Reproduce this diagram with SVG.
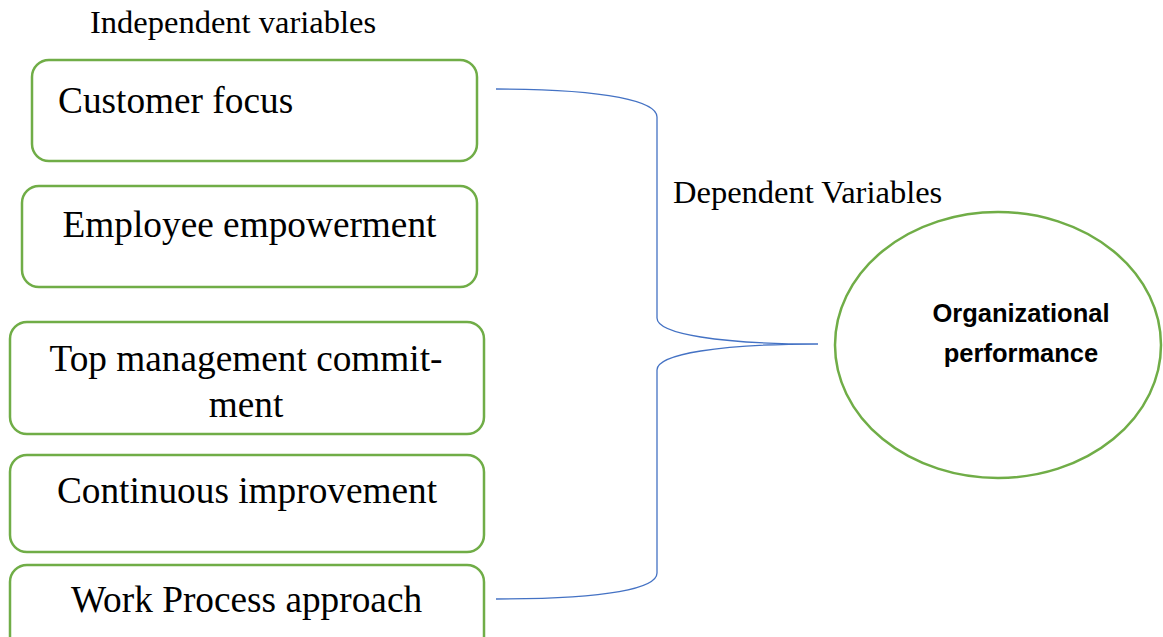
<svg xmlns="http://www.w3.org/2000/svg" width="1163" height="637" viewBox="0 0 1163 637">
<style>
.box{fill:#fff;stroke:#70AD47;stroke-width:2.5}
.t{font-family:"Liberation Serif","Times New Roman",serif;fill:#000}
.big{font-size:37.3px}
.hdr{font-size:32.5px}
.b{font-family:"Liberation Sans",Arial,sans-serif;font-weight:bold;font-size:25.5px;fill:#000;text-anchor:middle}
.brace{fill:none;stroke:#4472C4;stroke-width:1.3}
</style>
<rect width="1163" height="637" fill="#fff"/>
<text class="t hdr" x="90" y="33">Independent variables</text>
<text class="t hdr" x="673" y="203">Dependent Variables</text>
<g id="connectors">
<path class="brace" d="M496,89 C610,89 657,102 657,117 L657,318 C657,334 720,344 818,344 C720,344 657,354 657,370 L657,573 C657,588 610,599 496,599"/>
</g>
<g id="customer-focus">
<rect class="box" x="32" y="60" width="445" height="101" rx="17"/>
<text class="t big" x="58" y="113">Customer focus</text>
</g>
<g id="employee-empowerment">
<rect class="box" x="22" y="186" width="455" height="101" rx="17"/>
<text class="t big" x="249.5" y="237" text-anchor="middle">Employee empowerment</text>
</g>
<g id="top-management">
<rect class="box" x="10" y="322" width="474" height="112" rx="17"/>
<text class="t big" x="246" y="371" text-anchor="middle">Top management commit-</text>
<text class="t big" x="246" y="417" text-anchor="middle">ment</text>
</g>
<g id="continuous-improvement">
<rect class="box" x="10" y="455" width="474" height="97" rx="17"/>
<text class="t big" x="247" y="503" text-anchor="middle">Continuous improvement</text>
</g>
<g id="work-process">
<rect class="box" x="10" y="565" width="474" height="100" rx="17"/>
<text class="t big" x="246.5" y="612" text-anchor="middle">Work Process approach</text>
</g>
<g id="organizational-performance">
<ellipse cx="998" cy="345" rx="163" ry="133" fill="#fff" stroke="#70AD47" stroke-width="2.5"/>
<text class="b" x="1021" y="322">Organizational</text>
<text class="b" x="1021" y="362">performance</text>
</g>
</svg>
